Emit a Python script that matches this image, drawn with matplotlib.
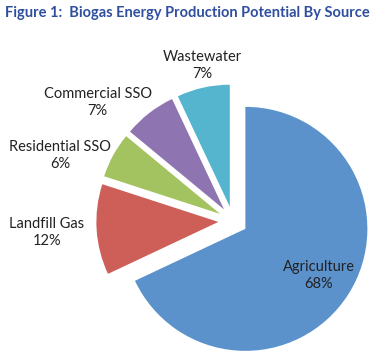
import matplotlib.pyplot as plt
import numpy as np

sources = ['Agriculture', 'Landfill Gas', 'Residential SSO', 'Commercial SSO', 'Wastewater']
shares = [68, 12, 6, 7, 7]
colors = ['#5B92CB', '#CD5E58', '#A2C35F', '#8E74B0', '#55B5CF']

# label placement (distance from pie centre, angle nudge in degrees)
lab_dist = [0.83, 1.53, 1.515, 1.475, 1.30]
lab_nudge = [0, 0, 8, 11, -1.5]

plt.rcParams['font.family'] = ['Lato', 'DejaVu Sans']

fig = plt.figure(figsize=(3.8, 3.64), dpi=100)
ax = fig.add_axes([0, 0, 1, 1])

wedges, _ = ax.pie(shares, colors=colors, startangle=90, counterclock=False,
                   explode=[0.12] * len(shares), radius=1.0,
                   wedgeprops=dict(linewidth=0))

for w, name, val, d, nud in zip(wedges, sources, shares, lab_dist, lab_nudge):
    ang = np.deg2rad((w.theta1 + w.theta2) / 2 + nud)
    ax.text(d * np.cos(ang), d * np.sin(ang), f'{name}\n{val}%',
            ha='center', va='center', fontsize=10.5, color='#222222',
            linespacing=1.25)

ax.set_xlim(-233 / 122, (380 - 233) / 122)
ax.set_ylim((221 - 364) / 122, 221 / 122)
ax.set_aspect('auto')
ax.axis('off')

fig.text(0.013, 0.965, 'Figure 1:  Biogas Energy Production Potential By Source',
         ha='left', va='center', fontsize=10.5, fontweight='bold', color='#2F4F9E')

fig.savefig('out.png', dpi=100)
